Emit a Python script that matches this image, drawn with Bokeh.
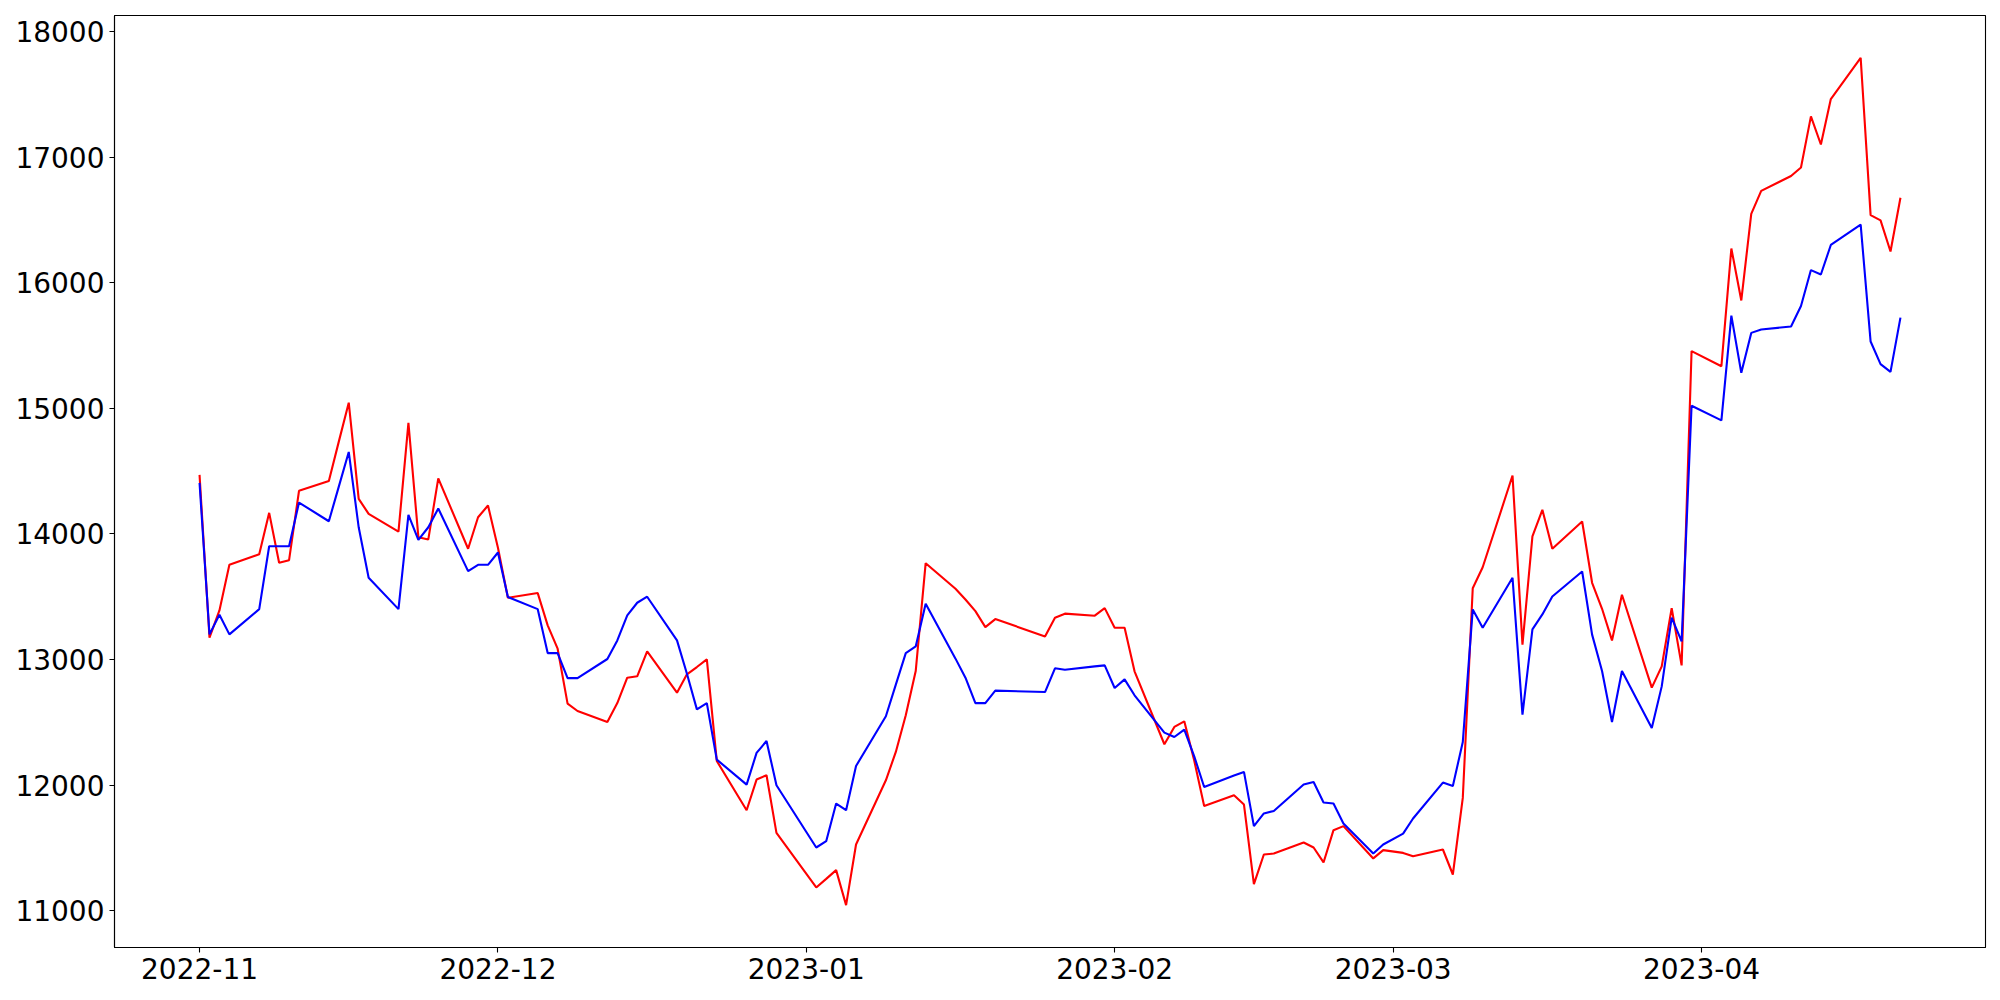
import pandas as pd
from bokeh.plotting import figure
from bokeh.models import Range1d, FixedTicker, DatetimeTickFormatter
from bokeh.embed import file_html
from bokeh.resources import INLINE

dates = [
    "2022-11-01", "2022-11-02", "2022-11-03", "2022-11-04", "2022-11-07", "2022-11-08",
    "2022-11-09", "2022-11-10", "2022-11-11", "2022-11-14", "2022-11-15", "2022-11-16",
    "2022-11-17", "2022-11-18", "2022-11-21", "2022-11-22", "2022-11-23", "2022-11-24",
    "2022-11-25", "2022-11-28", "2022-11-29", "2022-11-30",
    "2022-12-01", "2022-12-02", "2022-12-05", "2022-12-06", "2022-12-07", "2022-12-08",
    "2022-12-09", "2022-12-12", "2022-12-13", "2022-12-14", "2022-12-15", "2022-12-16",
    "2022-12-19", "2022-12-20", "2022-12-21", "2022-12-22", "2022-12-23", "2022-12-26",
    "2022-12-27", "2022-12-28", "2022-12-29",
    "2023-01-02", "2023-01-03", "2023-01-04", "2023-01-05", "2023-01-06", "2023-01-09",
    "2023-01-10", "2023-01-11", "2023-01-12", "2023-01-13", "2023-01-16", "2023-01-17",
    "2023-01-18", "2023-01-19", "2023-01-20", "2023-01-25", "2023-01-26", "2023-01-27",
    "2023-01-30", "2023-01-31",
    "2023-02-01", "2023-02-02", "2023-02-03", "2023-02-06", "2023-02-07", "2023-02-08",
    "2023-02-09", "2023-02-10", "2023-02-13", "2023-02-14", "2023-02-15", "2023-02-16",
    "2023-02-17", "2023-02-20", "2023-02-21", "2023-02-22", "2023-02-23", "2023-02-24",
    "2023-02-27", "2023-02-28",
    "2023-03-02", "2023-03-03", "2023-03-06", "2023-03-07", "2023-03-08", "2023-03-09",
    "2023-03-10", "2023-03-13", "2023-03-14", "2023-03-15", "2023-03-16", "2023-03-17",
    "2023-03-20", "2023-03-21", "2023-03-22", "2023-03-23", "2023-03-24", "2023-03-27",
    "2023-03-28", "2023-03-29", "2023-03-30", "2023-03-31",
    "2023-04-03", "2023-04-04", "2023-04-05", "2023-04-06", "2023-04-07", "2023-04-10",
    "2023-04-11", "2023-04-12", "2023-04-13", "2023-04-14", "2023-04-17", "2023-04-18",
    "2023-04-19", "2023-04-20", "2023-04-21",
]

red_values = [
    14470, 13174, 13391, 13754, 13839, 14168,
    13770, 13791, 14343, 14422, 14735, 15045,
    14279, 14160, 14019, 14884, 13974, 13956,
    14443, 13882, 14133, 14226,
    13890, 13492, 13529, 13272, 13086, 12649,
    12590, 12502, 12653, 12855, 12866, 13065,
    12736, 12882, 12940, 13001, 12192, 11800,
    12044, 12078, 11619,
    11185, 11253, 11323, 11044, 11527, 12038,
    12264, 12556, 12908, 13767, 13563, 13478,
    13385, 13258, 13322, 13184, 13333, 13365,
    13349, 13409,
    13253, 13253, 12906, 12325, 12463, 12508,
    12195, 11834, 11919, 11845, 11211, 11447,
    11455, 11543, 11503, 11384, 11641, 11673,
    11416, 11482,
    11460, 11434, 11487, 11288, 11898, 13568,
    13735, 14465, 13118, 13980, 14192, 13882,
    14099, 13611, 13404, 13152, 13516, 12776,
    12945, 13409, 12953, 15456,
    15335, 16273, 15859, 16549, 16732, 16850,
    16918, 17325, 17101, 17463, 17791, 16539,
    16497, 16249, 16677,
]

blue_values = [
    14407, 13200, 13357, 13200, 13401, 13902,
    13902, 13902, 14250, 14101, 14377, 14653,
    14053, 13651, 13401, 14152, 13953, 14053,
    14202, 13704, 13754, 13754,
    13852, 13497, 13401, 13051, 13051, 12852,
    12852, 13004, 13152, 13351, 13452, 13500,
    13152, 12887, 12603, 12653, 12203, 12004,
    12256, 12351, 11999,
    11503, 11553, 11853, 11800, 12152, 12548,
    12800, 13051, 13104, 13444, 13007, 12855,
    12653, 12653, 12752, 12741, 12930, 12919,
    12945, 12953,
    12773, 12842, 12715, 12418, 12383, 12442,
    12229, 11985, 12076, 12105, 11673, 11774,
    11794, 12004, 12025, 11861, 11853, 11694,
    11455, 11527,
    11614, 11734, 12020, 11993, 12343, 13399,
    13253, 13651, 12561, 13240, 13359, 13502,
    13701, 13198, 12908, 12502, 12908, 12455,
    12786, 13333, 13144, 15021,
    14904, 15738, 15283, 15601, 15628, 15652,
    15815, 16101, 16066, 16301, 16463, 15532,
    15352, 15290, 15722,
]

x_tick_dates = ["2022-11-01", "2022-12-01", "2023-01-01", "2023-02-01", "2023-03-01", "2023-04-01"]
y_ticks = [11000, 12000, 13000, 14000, 15000, 16000, 17000, 18000]

x = pd.to_datetime(dates)
x_ms = [t.timestamp() * 1000.0 for t in x]
tick_ms = [pd.Timestamp(d).timestamp() * 1000.0 for d in x_tick_dates]

# matplotlib-like 5% margins
xmin, xmax = min(x_ms), max(x_ms)
xpad = (xmax - xmin) * 0.05
all_y = red_values + blue_values
ymin, ymax = min(all_y), max(all_y)
ypad = (ymax - ymin) * 0.05

p = figure(
    width=2000, height=1000,
    x_axis_type="datetime",
    output_backend="svg",
    toolbar_location=None,
    x_range=Range1d(xmin - xpad, xmax + xpad),
    y_range=Range1d(ymin - ypad, ymax + ypad),
    min_border_left=114, min_border_right=15,
    min_border_top=15, min_border_bottom=53,
)
p.background_fill_color = "white"
p.border_fill_color = "white"
p.outline_line_color = "black"
p.outline_line_width = 1.1
p.grid.visible = False

p.line(x_ms, red_values, line_color="#ff0000", line_width=2.1)
p.line(x_ms, blue_values, line_color="#0000ff", line_width=2.1)

p.xaxis.ticker = FixedTicker(ticks=tick_ms)
fmt = "%Y-%m"
p.xaxis.formatter = DatetimeTickFormatter(
    microseconds=fmt, milliseconds=fmt, seconds=fmt, minsec=fmt, minutes=fmt,
    hourmin=fmt, hours=fmt, days=fmt, months=fmt, years=fmt,
)
p.yaxis.ticker = FixedTicker(ticks=y_ticks)

for ax in (p.xaxis[0], p.yaxis[0]):
    ax.major_label_text_font = "DejaVu Sans"
    ax.major_label_text_font_size = "28px"
    ax.major_label_text_color = "black"
    ax.axis_line_color = "black"
    ax.axis_line_width = 1.1
    ax.major_tick_line_color = "black"
    ax.major_tick_line_width = 1.1
    ax.major_tick_out = 5
    ax.major_tick_in = 0
    ax.minor_tick_line_color = None
    ax.major_label_standoff = 5

open("out.html", "w").write(file_html(p, INLINE))
